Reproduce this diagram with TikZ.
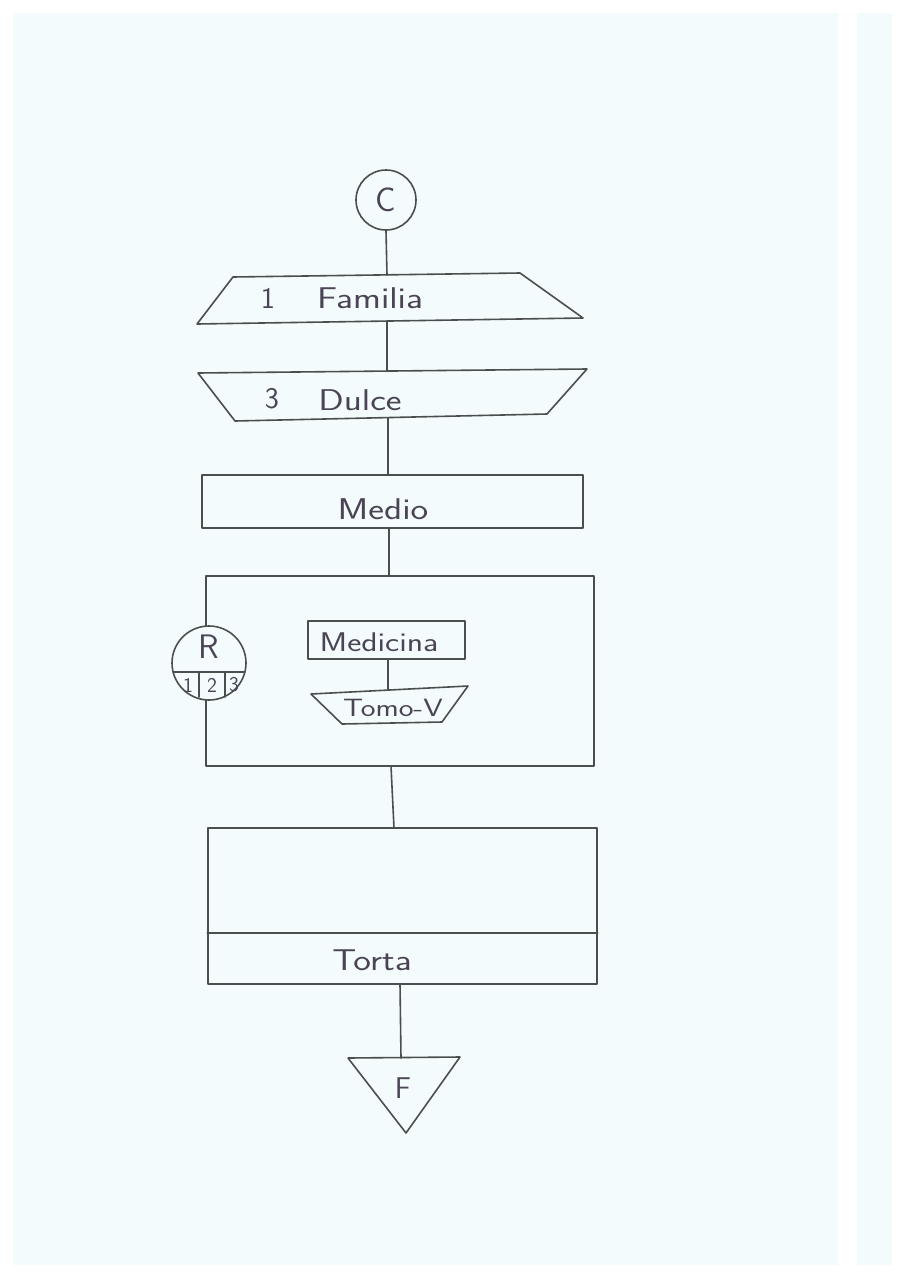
\documentclass[tikz,border=0pt]{standalone}
\usetikzlibrary{shapes.geometric}
\definecolor{paper}{HTML}{F3FBFD}
\definecolor{ink}{HTML}{4A4F4D}
\definecolor{txtc}{HTML}{4A4454}
\newcommand{\hw}[1]{\scalebox{1.25}[1]{#1}}
\tikzset{
  pen/.style={draw=ink, line width=1.6pt, line join=round, line cap=round},
  lbl/.style={text=txtc, font=\sffamily\fontsize{30}{34}\selectfont, inner sep=0pt},
  lblsm/.style={text=txtc, font=\sffamily\fontsize{27}{30}\selectfont, inner sep=0pt},
  small/.style={text=txtc, font=\sffamily\fontsize{21}{23}\selectfont, inner sep=0pt},
  boxnode/.style={pen, rectangle, inner sep=0pt},
  conn/.style={pen}
}
\begin{document}
\begin{tikzpicture}[x=1pt,y=-1pt]
\useasboundingbox (0,0) rectangle (905,1280);
\fill[white] (0,0) rectangle (905,1280);
\fill[paper] (13,13) rectangle (838,1265);
\fill[paper] (857,13) rectangle (892,1265);

% connector C
\node[pen, circle, minimum size=60pt, inner sep=0pt, text=txtc, font=\sffamily\fontsize{34}{38}\selectfont] (c) at (386,200) {C};

% Familia (input)
\draw[pen] (233,277) -- (520,273) -- (583,318) -- (197,324) -- cycle;
\coordinate (famt) at (387,275);
\coordinate (famb) at (387,321);
\node[lbl] (fam1) at (268,298) {1};
\node[lbl] (famtx) at (370,298) {\hw{Familia}};

% Dulce
\draw[pen] (198,373) -- (587,369) -- (547,414) -- (235,421) -- cycle;
\coordinate (dult) at (387,371);
\coordinate (dulb) at (388,418);
\node[lbl] (dul3) at (272,399) {3};
\node[lbl] (dultx) at (360,400) {\hw{Dulce}};

% Medio
\node[boxnode, minimum width=381pt, minimum height=53pt] (medio) at (392.5,501.5) {};
\node[lbl] (mediotx) at (383,509) {\hw{Medio}};

% big box
\node[boxnode, minimum width=388pt, minimum height=190pt] (big) at (400,671) {};
\coordinate (bigt) at (389,576);
\coordinate (bigb) at (391,766);

% R circle
\node[pen, circle, fill=paper, minimum size=74pt, inner sep=0pt] (r) at (209,663) {};
\draw[pen] (173.1,672) -- (244.9,672);
\draw[pen] (199,672) -- (199,697);
\draw[pen] (225,672) -- (225,697);
\node[lbl, font=\sffamily\fontsize{34}{38}\selectfont] (rtx) at (209,647) {R};
\node[small] (r1) at (188,685) {1};
\node[small] (r2) at (212,685) {2};
\node[small] (r3) at (234,685) {3};

% Medicina
\node[boxnode, minimum width=157pt, minimum height=38pt] (med) at (386.5,640) {};
\node[lblsm] (medtx) at (379,642) {\hw{Medicina}};
\coordinate (medb) at (388,659);

% Tomo-V
\draw[pen] (311,694) -- (468,686) -- (442,722) -- (342,724) -- cycle;
\coordinate (tomt) at (388,690);
\node[lblsm, font=\sffamily\fontsize{25}{28}\selectfont] (tomtx) at (393,708) {\hw{Tomo-V}};

% bottom box
\node[boxnode, minimum width=389pt, minimum height=156pt] (proc) at (402.5,906) {};
\draw[pen] (proc.west |- 0,933) -- (proc.east |- 0,933);
\node[lbl] (tortx) at (372,960) {\hw{Torta}};
\coordinate (proct) at (394,828);
\coordinate (procb) at (400,984);

% end triangle
\draw[pen] (348,1058) -- (460,1057) -- (406,1133) -- cycle;
\coordinate (trit) at (401,1058);
\node[lbl] (ftx) at (403,1088) {F};

% connectors
\draw[conn] (c.south) -- (famt);
\draw[conn] (famb) -- (dult);
\draw[conn] (dulb) -- (medio.north -| dulb);
\draw[conn] (medio.south -| bigt) -- (bigt);
\draw[conn] (medb) -- (tomt);
\draw[conn] (bigb) -- (proct);
\draw[conn] (procb) -- (trit);
\end{tikzpicture}
\end{document}
